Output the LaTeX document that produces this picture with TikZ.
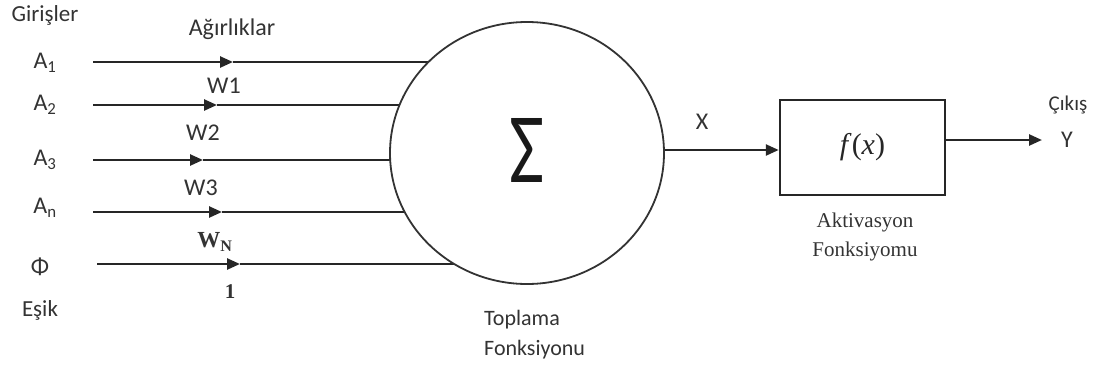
\documentclass[tikz,border=0pt]{standalone}
\usepackage{fontspec}
\setmainfont{Carlito}
\newfontfamily\serifff{Liberation Serif}
\usetikzlibrary{arrows.meta,shapes.geometric,backgrounds}
\begin{document}
\begin{tikzpicture}[x=1pt,y=-1pt,
  lbl/.style={inner sep=0pt,font=\fontsize{23}{26}\selectfont,text=black!80},
  big/.style={font=\fontsize{24}{27}\selectfont},
  wire/.style={line width=2.5pt,draw=black!85},
  tip/.style={-{Triangle[length=13pt,width=11pt]}},
  ]
\useasboundingbox (0,0) rectangle (1096,367);
% summation
\node[ellipse,draw=black!80,line width=1.8pt,fill=white,minimum width=274pt,minimum height=262pt,inner sep=0pt] (sum) at (527,153) {};
\node[inner sep=0pt,text=black!90] (sig) at (527,150) {\resizebox{35pt}{64pt}{Σ}};
% labels
\node[lbl] (gir) at (45,15) {Girişler};
\node[lbl,big] (agr) at (232,29) {Ağırlıklar};
\node[lbl,big] (a1) at (45,63) {A\textsubscript{1}};
\node[lbl,big] (a2) at (45,105) {A\textsubscript{2}};
\node[lbl,big] (a3) at (45,160) {A\textsubscript{3}};
\node[lbl,big] (an) at (45,208) {A\textsubscript{n}};
\node[lbl,big] (phi) at (40,267) {Φ};
\node[lbl] (esik) at (40,310) {Eşik};
\node[lbl,big] (w1) at (224,86) {W1};
\node[lbl,big] (w2) at (203,133) {W2};
\node[lbl,big] (w3) at (201,188) {W3};
\node[lbl,font=\serifff\bfseries\fontsize{23}{26}\selectfont] (wn) at (215,242) {W\textsubscript{N}};
\node[lbl,font=\serifff\bfseries\fontsize{21}{24}\selectfont] (one) at (230,292) {1};
\node[lbl,big] (xl) at (702,122) {X};
\node[lbl,anchor=west,align=left,font=\fontsize{22}{30}\selectfont] (top) at (484,335) {Toplama\\Fonksiyonu};
\node[lbl,align=center,font=\serifff\fontsize{21}{29}\selectfont] (akt) at (865,237) {Aktivasyon\\Fonksiyomu};
\node[lbl,font=\fontsize{21}{24}\selectfont] (cik) at (1068,105) {Çıkış};
\node[lbl,big] (yl) at (1067,140) {Y};
% activation box
\node[draw=black!85,line width=2.5pt,minimum width=165pt,minimum height=95pt,inner sep=0pt,text=black!85,font=\serifff\fontsize{30}{34}\selectfont] (box) at (862.5,147.5) {\itshape f\/\upshape(\itshape x\/\upshape)};
% input wires
\coordinate (s1) at (93,62);  \coordinate (t1) at (233,62);
\coordinate (s2) at (93,105); \coordinate (t2) at (217,105);
\coordinate (s3) at (93,160); \coordinate (t3) at (203,160);
\coordinate (s4) at (93,212); \coordinate (t4) at (222,212);
\coordinate (s5) at (97,264); \coordinate (t5) at (240,264);
\begin{scope}[on background layer]
\foreach \i in {1,...,5}{
  \draw[wire,tip] (s\i) -- (t\i);
  \draw[wire] (t\i) -- (t\i -| sum.center);
}
\end{scope}
% output wires
\coordinate (xin) at (780,150);
\draw[wire,tip] (sum.east |- xin) -- (box.west |- xin);
\coordinate (yout) at (1042,140);
\draw[wire,tip] (box.east |- yout) -- (yout);
\end{tikzpicture}
\end{document}
